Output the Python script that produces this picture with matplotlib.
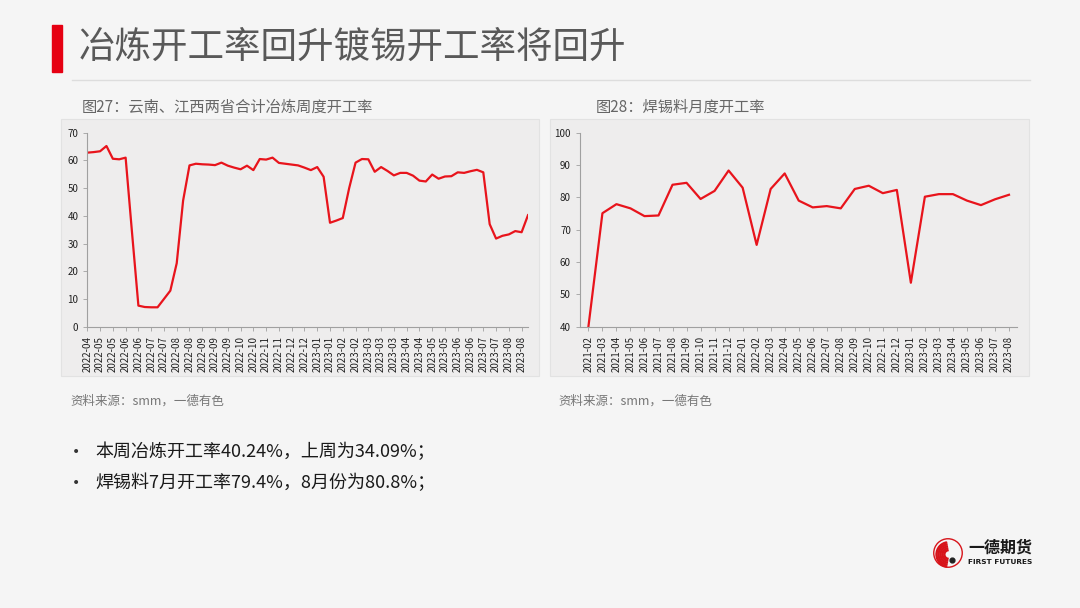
import matplotlib
matplotlib.use("Agg")
import matplotlib.pyplot as plt
from matplotlib.patches import Rectangle, Circle, Wedge

plt.rcParams['font.family'] = ['Noto Sans CJK SC', 'DejaVu Sans']

# ----------------------------------------------------
# data
# ----------------------------------------------------
smelt_labels = ["2022-04", "2022-05", "2022-05", "2022-06", "2022-06", "2022-07", "2022-07",
                "2022-08", "2022-08", "2022-09", "2022-09", "2022-09", "2022-10", "2022-10",
                "2022-11", "2022-11", "2022-12", "2022-12", "2023-01", "2023-01", "2023-02",
                "2023-02", "2023-03", "2023-03", "2023-03", "2023-04", "2023-04", "2023-05",
                "2023-05", "2023-06", "2023-06", "2023-07", "2023-07", "2023-08", "2023-08"]
smelt_rate = [62.8, 63.0, 63.3, 65.2, 60.6, 60.4, 61.0, 34.0, 7.6, 7.1,
              7.0, 7.0, 10.0, 13.0, 22.9, 45.5, 58.2, 58.8, 58.6, 58.5,
              58.3, 59.2, 58.1, 57.4, 56.8, 58.1, 56.5, 60.5, 60.3, 61.0,
              59.1, 58.8, 58.5, 58.2, 57.4, 56.5, 57.6, 54.1, 37.5, 38.3,
              39.2, 50.0, 59.2, 60.5, 60.4, 55.9, 57.6, 56.2, 54.6, 55.5,
              55.5, 54.5, 52.7, 52.4, 54.9, 53.4, 54.2, 54.3, 55.7, 55.5,
              56.1, 56.6, 55.7, 37.0, 31.8, 32.8, 33.3, 34.5, 34.09, 40.24]

solder_months = ["2021-02", "2021-03", "2021-04", "2021-05", "2021-06", "2021-07", "2021-08",
                 "2021-09", "2021-10", "2021-11", "2021-12", "2022-01", "2022-02", "2022-03",
                 "2022-04", "2022-05", "2022-06", "2022-07", "2022-08", "2022-09", "2022-10",
                 "2022-11", "2022-12", "2023-01", "2023-02", "2023-03", "2023-04", "2023-05",
                 "2023-06", "2023-07", "2023-08"]
solder_rate = [40.0, 75.1, 77.9, 76.6, 74.2, 74.4, 83.9, 84.5, 79.5, 82.0,
               88.3, 83.0, 65.3, 82.6, 87.4, 79.0, 76.9, 77.3, 76.6, 82.6,
               83.6, 81.3, 82.3, 53.6, 80.2, 81.0, 81.0, 79.0, 77.6, 79.4, 80.8]

RED = "#e8141c"
BG = "#f5f5f5"
PANEL = "#eeeded"

W, H = 1080, 608
fig = plt.figure(figsize=(10.8, 6.08), dpi=100, facecolor=BG)


def fx(x):
    return x / W


def fy(y):
    return 1 - y / H


# ----------------------------------------------------
# header
# ----------------------------------------------------
fig.patches.append(Rectangle((fx(52), fy(72)), fx(10), 47 / H, transform=fig.transFigure,
                             color="#e60012", zorder=1))
fig.text(fx(79), fy(48), "冶炼开工率回升镀锡开工率将回升", fontsize=26.3, color="#595959",
         va="center", ha="left")
fig.add_artist(plt.Line2D([fx(72), fx(1030)], [fy(80), fy(80)], transform=fig.transFigure,
                          color="#dddddd", lw=1))

# panels (behind the axes)
for x0, x1 in [(61, 539), (550, 1029)]:
    fig.patches.append(Rectangle((fx(x0), fy(376)), fx(x1 - x0), 257 / H,
                                 transform=fig.transFigure, facecolor=PANEL,
                                 edgecolor="#e2e2e2", lw=0.8, zorder=-5))

fig.text(fx(82), fy(107), "图27：云南、江西两省合计冶炼周度开工率", fontsize=11, color="#666666",
         va="center")
fig.text(fx(596), fy(107), "图28：焊锡料月度开工率", fontsize=11, color="#666666", va="center")
fig.text(fx(70), fy(401), "资料来源：smm，一德有色", fontsize=9, color="#777777", va="center")
fig.text(fx(558), fy(401), "资料来源：smm，一德有色", fontsize=9, color="#777777", va="center")


def style(ax):
    ax.set_facecolor(PANEL)
    ax.set_zorder(2)
    for s in ["top", "right"]:
        ax.spines[s].set_visible(False)
    for s in ["left", "bottom"]:
        ax.spines[s].set_color("#a0a0a0")
        ax.spines[s].set_linewidth(0.8)
    ax.tick_params(axis="both", colors="#a0a0a0", labelcolor="#222222", labelsize=7,
                   length=3, width=0.6)


# ----------------------------------------------------
# left chart
# ----------------------------------------------------
ax1 = fig.add_axes([fx(87.3), fy(326.7), fx(440.7), 194 / H])
style(ax1)
ax1.plot(range(len(smelt_rate)), smelt_rate, color=RED, lw=1.6)
ax1.set_ylim(0, 70)
ax1.set_yticks(range(0, 71, 10))
ax1.set_xlim(0, len(smelt_rate) - 1)
ax1.set_xticks(range(0, 2 * len(smelt_labels), 2))
ax1.set_xticklabels(smelt_labels, rotation=90)

# ----------------------------------------------------
# right chart
# ----------------------------------------------------
ax2 = fig.add_axes([fx(580), fy(326.7), fx(436.7), 194 / H])
style(ax2)
ax2.plot(range(len(solder_rate)), solder_rate, color=RED, lw=1.6)
ax2.set_ylim(40, 100)
ax2.set_yticks(range(40, 101, 10))
ax2.set_xlim(-0.6, len(solder_rate) - 0.45)
ax2.set_xticks(range(len(solder_months)))
ax2.set_xticklabels(solder_months, rotation=90)

# ----------------------------------------------------
# bullets
# ----------------------------------------------------
fig.text(fx(72), fy(452), "•", fontsize=10, color="#333333", va="center",
         family=["DejaVu Sans"])
fig.text(fx(95), fy(452), "本周冶炼开工率40.24%，上周为34.09%；", fontsize=13, color="#1a1a1a",
         va="center")
fig.text(fx(72), fy(483), "•", fontsize=10, color="#333333", va="center",
         family=["DejaVu Sans"])
fig.text(fx(95), fy(483), "焊锡料7月开工率79.4%，8月份为80.8%；", fontsize=13, color="#1a1a1a",
         va="center")

# ----------------------------------------------------
# logo
# ----------------------------------------------------
lax = fig.add_axes([fx(933), fy(568), fx(30), 30 / H])
lax.set_xlim(-1, 1)
lax.set_ylim(-1, 1)
lax.set_aspect("equal")
lax.axis("off")
lax.add_patch(Circle((0, 0), 0.95, fill=False, edgecolor="#d7141a", lw=1.0))
for k in range(5):
    lax.add_patch(Wedge((0.05, -0.1), 0.85 - k * 0.13, 100, 260, width=0.07, color="#d7141a"))
lax.add_patch(Circle((0.3, -0.5), 0.16, color="#222222"))
fig.text(fx(968), fy(548), "一德期货", fontsize=11.5, fontweight="bold", color="#1a1a1a",
         va="center")
fig.text(fx(968), fy(562), "FIRST FUTURES", fontsize=5.3, fontweight="bold", color="#1a1a1a",
         va="center", family=["DejaVu Sans"])

fig.savefig("out.png", dpi=100, facecolor=BG)
